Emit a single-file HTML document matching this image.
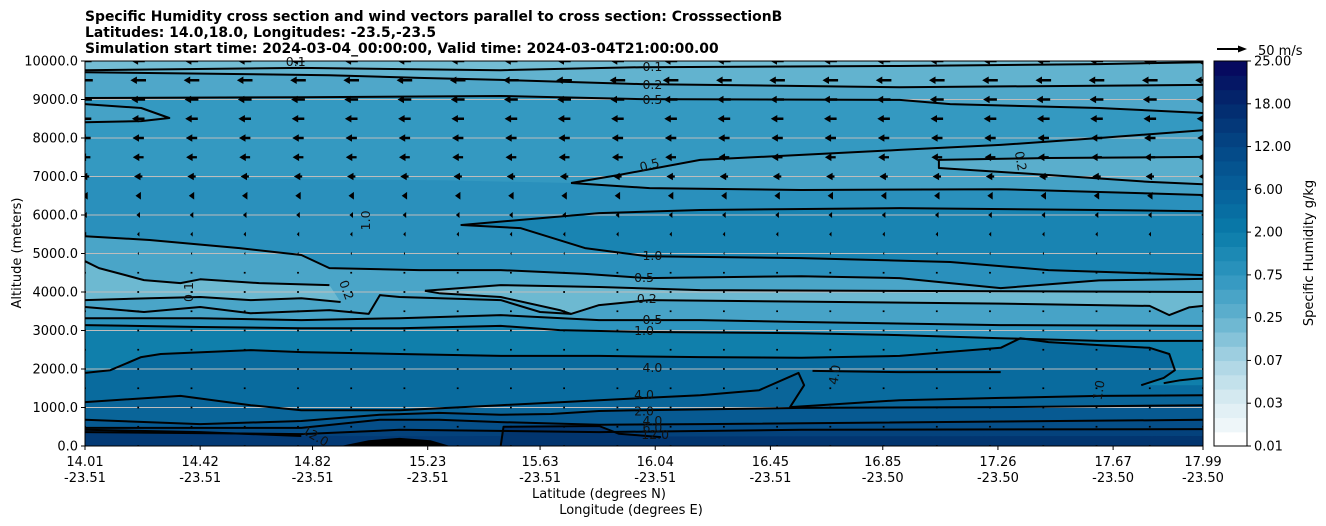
<!DOCTYPE html>
<html><head><meta charset="utf-8">
<style>
html,body{margin:0;padding:0;background:#fff;}
svg{display:block;font-family:"DejaVu Sans","Liberation Sans",sans-serif;}
</style></head>
<body>
<svg id="chart" width="1326" height="526" viewBox="0 0 1326 526" xmlns="http://www.w3.org/2000/svg">
  <g font-weight="bold" font-size="13.9" fill="#000">
    <text x="85" y="21">Specific Humidity cross section and wind vectors parallel to cross section: CrosssectionB</text>
    <text x="85" y="37">Latitudes: 14.0,18.0, Longitudes: -23.5,-23.5</text>
    <text x="85" y="53">Simulation start time: 2024-03-04_00:00:00, Valid time: 2024-03-04T21:00:00.00</text>
  </g>
  <defs><clipPath id="plotclip"><rect x="85" y="61" width="1118" height="385"/></clipPath></defs>
  <g id="fills" clip-path="url(#plotclip)"></g>
  <g id="grid"></g>
  <g id="lines" clip-path="url(#plotclip)"></g>
  <g id="clabels" font-size="12.5" fill="#111"></g>
  <g id="arrows" clip-path="url(#plotclip)"></g>
  <rect x="85" y="61" width="1118" height="385" fill="none" stroke="#000" stroke-width="1"/>
  <g id="yaxis" font-size="13"></g>
  <g id="xaxis" font-size="13"></g>
  <text font-size="13" transform="translate(21,253) rotate(-90)" text-anchor="middle">Altitude (meters)</text>
  <text font-size="13" x="599" y="498" text-anchor="middle">Latitude (degrees N)</text>
  <text font-size="13" x="631" y="514" text-anchor="middle">Longitude (degrees E)</text>
  <g id="cbar" font-size="13"></g>
  <text font-size="13" transform="translate(1313,253) rotate(-90)" text-anchor="middle">Specific Humidity g/kg</text>
  <g>
    <line x1="1217" y1="49" x2="1240" y2="49" stroke="#000" stroke-width="2"/>
    <polygon points="1247,49 1238,45.5 1238,52.5" fill="#000"/>
    <text x="1258" y="55" font-size="13">50 m/s</text>
  </g>
</svg>
<script>
// ---- data ----
const yTicks = [0,1000,2000,3000,4000,5000,6000,7000,8000,9000,10000];
const latTicks = [14.01,14.42,14.82,15.23,15.63,16.04,16.45,16.85,17.26,17.67,17.99];
const lonTicks = ["-23.51","-23.51","-23.51","-23.51","-23.51","-23.51","-23.51","-23.50","-23.50","-23.50","-23.50"];
const cbarTicks = ["0.01","0.03","0.07","0.25","0.75","2.00","6.00","12.00","18.00","25.00"];
const cbarAnchors = ['#ffffff','#dcedf3','#a9d4e3','#63b2ce','#2e95bf','#0a7ca9','#06609a','#044785','#03296d','#06045c'];
const windAlts = [0,500,1000,1500,2000,2500,3000,3500,4000,4500,5000,5500,6000,6500,7000,7500,8000,8500,9000,9500,10000];
const windU = [0,1,-0.5,-0.5,-0.5,-0.5,-1,-1,-1.5,-1.5,-2,-4,-6,-9,-14,-18,-19,-21,-23,-26,-22];
const windLats = [];
for (let k=0;k<22;k++) windLats.push(14.01 + k*(3.98/21)); // quiver grid columns

const lineA_lat=[14.01,14.78,15.49,15.99,16.91,17.62,17.99], lineA_alt=[9760,9820,9760,9840,9870,9920,9970];
const lineB_lat=[14.01,14.88,15.20,15.49,15.99,16.91,17.99], lineB_alt=[9710,9630,9560,9510,9400,9320,9380];
const lineC_lat=[14.01,14.78,15.49,15.99,16.91,17.09,17.62,17.99], lineC_alt=[9040,9060,9090,9010,8990,8880,8780,8650];
const lineD_lat=[14.01,14.21,14.31,14.21,14.01], lineD_alt=[8880,8780,8520,8440,8410];
const lineE_lat=[15.74,15.91,16.20,16.56,16.91,17.27,17.62,17.99], lineE_alt=[6830,7040,7430,7560,7690,7820,8000,8200];
const lineF_lat=[15.74,16.02,16.56,17.27,17.99], lineF_alt=[6830,6700,6650,6670,6520];
const lineG_lat=[17.99,17.44,17.05,17.05,17.44,17.80,17.99], lineG_alt=[7510,7480,7430,7220,7040,6860,6800];
const lineH_lat=[17.99,17.62,16.91,16.20,15.84,15.35,15.56,15.79,16.01,16.56,17.09,17.44,17.99], lineH_alt=[6100,6130,6180,6130,6050,5740,5660,5140,4930,4880,4780,4570,4440];
const lineI_lat=[14.01,14.24,14.56,14.78,14.88,15.20,15.49,15.79,16.01,16.56,16.91,17.27,17.62,17.99], lineI_alt=[5450,5350,5140,4960,4620,4570,4570,4470,4360,4410,4360,4100,4300,4340];
const lineJ_lat=[14.01,14.06,14.22,14.35,14.42,14.63,14.88], lineJ_alt=[4800,4620,4310,4230,4330,4230,4180];
const lineK_lat=[14.01,14.24,14.42,14.60,14.78,14.92], lineK_alt=[3790,3840,3870,3790,3840,3740];
const lineL2u_lat=[15.22,15.49,15.84,16.20,17.99], lineL2u_alt=[4030,4180,4130,4050,4000];
const lineL2_lat=[15.22,15.27,15.49,15.70,15.74,15.84,16.02,16.56,17.27,17.80,17.87,17.94,17.99], lineL2_alt=[4030,3970,3870,3530,3430,3660,3790,3750,3700,3640,3400,3600,3640];
const lineL_lat=[14.01,14.22,14.42,14.60,14.88,15.02,15.06,15.13,15.49,15.63,15.74], lineL_alt=[3610,3480,3610,3450,3530,3430,3920,3870,3790,3480,3430];
const lineM_lat=[14.01,14.42,14.78,15.13,15.49,15.84,16.20,16.56,17.27,17.99], lineM_alt=[3320,3320,3270,3320,3400,3270,3270,3220,3140,3120];
const lineN_lat=[14.01,14.42,14.78,15.13,15.49,15.70,16.02,16.56,16.91,17.27,17.62,17.99], lineN_alt=[3140,3090,3060,3060,3120,3010,2960,2930,2880,2800,2730,2730];
const lineO_lat=[14.01,14.10,14.21,14.28,14.60,14.78,15.13,15.49,15.84,16.20,16.56,16.91,17.27,17.34,17.44,17.62,17.80,17.87,17.89,17.85,17.77], lineO_alt=[1900,1970,2310,2390,2490,2440,2390,2340,2340,2310,2290,2340,2550,2800,2700,2620,2550,2390,1970,1770,1580];
const lineO2_lat=[17.85,17.91,17.99], lineO2_alt=[1630,1710,1770];
const lineO3_lat=[16.60,16.91,17.27], lineO3_alt=[1950,1920,1920];
const lineP_lat=[14.01,14.35,14.60,14.78,15.13,15.49,15.84,16.20,16.41,16.55,16.57,16.52,16.91,17.27,17.62,17.99], lineP_alt=[1140,1300,1060,930,930,1060,1190,1320,1450,1900,1580,1010,1190,1250,1300,1320];
const lineQ_lat=[14.01,14.42,14.78,15.06,15.27,15.49,15.67,15.84,15.99,16.56,17.27,17.99], lineQ_alt=[680,570,650,810,860,810,830,910,930,990,1010,1060];
const lineR_lat=[14.01,14.78,15.06,15.27,15.49,15.84,16.20,17.99], lineR_alt=[470,470,680,680,620,550,570,680];
const lineS_lat=[14.01,14.78,15.13,15.84,16.56,17.99], lineS_alt=[360,310,420,360,420,440];
const lineT_lat=[14.01,14.42,14.78], lineT_alt=[420,360,260];
const lineU_lat=[15.49,15.50,15.84,15.91,16.01,16.06], lineU_alt=[0,500,520,320,260,230];
const blob_lat=[14.92,15.02,15.13,15.24,15.31], blob_alt=[0,150,210,150,0];

const labelText=["0.1","0.2","0.5","0.5","0.2","1.0","0.5","0.2","0.5","1.0","4.0","4.0","2.0","4.0","6.0","12.0","1.0","0.1","0.2","0.1","12.0","4.0","1.0"];
const labelLat=[16.03,16.03,16.03,16.02,17.34,16.03,16.00,16.01,16.03,16.00,16.03,16.00,16.00,16.03,16.03,16.04,15.01,14.38,14.94,14.76,14.83,16.68,17.62];
const labelAlt=[9840,9380,8990,7290,7400,4930,4360,3820,3270,2990,2030,1320,900,650,470,290,5860,4000,4050,9980,250,1850,1450];
const labelRot=[0,0,0,-15,80,0,0,0,0,0,0,0,0,0,0,0,-90,-90,70,0,30,-80,-80];

// ---- scales ----
const X0=85,X1=1203,Y0=446,Y1=61;
const xS = lat => X0 + (lat-14.01)/(17.99-14.01)*(X1-X0);
const yS = alt => Y0 - alt/10000*(Y0-Y1);
const NS="http://www.w3.org/2000/svg";
function mk(tag, attrs, parent){const e=document.createElementNS(NS,tag);for(const k in attrs)e.setAttribute(k,attrs[k]);parent.appendChild(e);return e;}
const fills=document.getElementById('fills'), lines=document.getElementById('lines');

function pts(la,al){return la.map((l,i)=>xS(l).toFixed(1)+','+yS(al[i]).toFixed(1));}
function fillBelow(la,al,color,name){
  const p=pts(la,al);
  const lastY=yS(al[al.length-1]).toFixed(1), firstY=yS(al[0]).toFixed(1);
  p.push(X1+','+lastY, X1+','+Y0, X0+','+Y0, X0+','+firstY);
  const e=mk('polygon',{points:p.join(' '),fill:color},fills);
  
  
}
function fillClosed(la,al,color,name){
  const e=mk('polygon',{points:pts(la,al).join(' '),fill:color},fills);
  
  
}
function drawLine(la,al,name){
  const e=mk('polyline',{points:pts(la,al).join(' '),fill:'none',stroke:'#000','stroke-width':2,'stroke-linejoin':'round'},lines);
  
  
}
// background
const bg=mk('rect',{x:X0,y:Y1,width:X1-X0,height:Y0-Y1,fill:'#74bdd4'},fills);


fillBelow(lineA_lat,lineA_alt,'#62b3cf','fill-band-a');
fillBelow(lineB_lat,lineB_alt,'#4fa7c9','fill-band-b');
fillBelow(lineC_lat,lineC_alt,'#3499c1','fill-band-c');
fillClosed(lineD_lat,lineD_alt,'#45a2c6','fill-tongue-d');
fillBelow([14.01,14.5,15.3].concat(lineF_lat),[7000,6950,6900].concat(lineF_alt),'#2a90bc','fill-band-f');
fillClosed(lineE_lat.concat(lineF_lat.slice().reverse()),lineE_alt.concat(lineF_alt.slice().reverse()),'#45a2c6','fill-tongue-e');
fillClosed(lineG_lat,lineG_alt,'#5aaecc','fill-tongue-g');
fillClosed(lineH_lat,lineH_alt,'#1984b2','fill-tongue-h');
fillBelow(lineI_lat,lineI_alt,'#4aa5c8','fill-band-i');
fillClosed(lineJ_lat.concat(lineK_lat.slice().reverse()),lineJ_alt.concat(lineK_alt.slice().reverse()),'#6db9d1','fill-tongue-j');
fillClosed(lineL2u_lat.concat([17.99],lineL2_lat.slice().reverse()),lineL2u_alt.concat([3640],lineL2_alt.slice().reverse()),'#6db9d1','fill-tongue-l2');
fillBelow(lineL_lat.concat(lineL2_lat.slice(5)),lineL_alt.concat(lineL2_alt.slice(5)),'#47a3c7','fill-band-l');
fillBelow(lineM_lat,lineM_alt,'#2d94be','fill-band-m');
fillBelow(lineN_lat,lineN_alt,'#107fab','fill-band-n');
fillBelow(lineO_lat,lineO_alt,'#096b9e','fill-band-o');
fillBelow(lineP_lat,lineP_alt,'#0a6599','fill-band-p');
fillBelow(lineQ_lat,lineQ_alt,'#075a92','fill-band-q');
fillBelow(lineR_lat,lineR_alt,'#054e88','fill-band-r');
fillBelow(lineS_lat,lineS_alt,'#04427c','fill-band-s');
fillBelow(lineT_lat.concat([15.2,15.49]),lineT_alt.concat([250,260]),'#033a75','fill-band-t');
fillBelow(lineU_lat.concat([17.99]),lineU_alt.concat([260]),'#02356f','fill-band-u');
fillClosed(blob_lat,blob_alt,'#000','fill-blob-max');

// grid
const grid=document.getElementById('grid');
yTicks.forEach(v=>{
  if(v===0||v===10000) return;
  const g=mk('line',{x1:X0,x2:X1,y1:yS(v),y2:yS(v),stroke:'#bdbdbd','stroke-width':1},grid);
  
  
});

// contour lines
[[lineA_lat,lineA_alt],[lineB_lat,lineB_alt],[lineC_lat,lineC_alt],[lineD_lat,lineD_alt],[lineE_lat,lineE_alt],[lineF_lat,lineF_alt],[lineG_lat,lineG_alt],[lineH_lat,lineH_alt],[lineI_lat,lineI_alt],[lineJ_lat,lineJ_alt],[lineK_lat,lineK_alt],[lineL2u_lat,lineL2u_alt],[lineL2_lat,lineL2_alt],[lineL_lat,lineL_alt],[lineM_lat,lineM_alt],[lineN_lat,lineN_alt],[lineO_lat,lineO_alt],[lineO2_lat,lineO2_alt],[lineO3_lat,lineO3_alt],[lineP_lat,lineP_alt],[lineQ_lat,lineQ_alt],[lineR_lat,lineR_alt],[lineS_lat,lineS_alt],[lineT_lat,lineT_alt],[lineU_lat,lineU_alt]].forEach(a=>drawLine(a[0],a[1],'contour-line'));

// contour labels
const cl=document.getElementById('clabels');
labelText.forEach((t,i)=>{
  const x=xS(labelLat[i]), y=yS(labelAlt[i]);
  const e=mk('text',{x:0,y:4,'text-anchor':'middle',transform:`translate(${x.toFixed(1)},${y.toFixed(1)}) rotate(${labelRot[i]})`},cl);
  e.textContent=t;
  
  
});

// wind arrows (pivot middle, 50 m/s = 30px)
const arr=document.getElementById('arrows');
windAlts.forEach((alt,r)=>{
  const u=windU[r];
  windLats.forEach(lat=>{
    const cx=xS(lat), cy=yS(alt);
    const L=Math.abs(u)*30/50, d=u<0?-1:1;
    let p;
    if(L<1.2){
      p=[[cx-0.9,cy-0.9],[cx+0.9,cy-0.9],[cx+0.9,cy+0.9],[cx-0.9,cy+0.9]];
    } else {
      const hl=Math.min(L,6.5), hw=Math.min(3.8,1.2+L*0.5), sw=Math.min(1.2,0.3+L*0.1);
      const tip=cx+d*L/2, tail=cx-d*L/2, hb=tip-d*hl;
      p=[[tail,cy-sw],[hb,cy-sw],[hb,cy-hw],[tip,cy],[hb,cy+hw],[hb,cy+sw],[tail,cy+sw]];
    }
    const e=mk('polygon',{points:p.map(q=>q[0].toFixed(1)+','+q[1].toFixed(1)).join(' '),fill:'#000'},arr);
    
    
  });
});

// y axis
const ya=document.getElementById('yaxis');
yTicks.forEach(v=>{
  const y=yS(v);
  mk('line',{x1:X0-4,x2:X0,y1:y,y2:y,stroke:'#000'},ya);
  const t=mk('text',{x:X0-7,y:y+4.5,'text-anchor':'end'},ya);
  t.textContent=v.toFixed(1);
  
  
});
// x axis
const xa=document.getElementById('xaxis');
latTicks.forEach((v,i)=>{
  const x=xS(v);
  mk('line',{x1:x,x2:x,y1:Y0,y2:Y0+4,stroke:'#000'},xa);
  const t=mk('text',{x:x,y:466,'text-anchor':'middle'},xa);
  t.textContent=v.toFixed(2);
  
  
  const t2=mk('text',{x:x,y:482,'text-anchor':'middle'},xa);
  t2.textContent=lonTicks[i];
  
  
});

// colorbar
const cb=document.getElementById('cbar');
const CX=1214,CW=33,CT=61,CB=446,NB=27;
function hex2rgb(h){return [1,3,5].map(i=>parseInt(h.substr(i,2),16));}
function colAt(f){const s=f*(cbarAnchors.length-1);const i=Math.min(Math.floor(s),cbarAnchors.length-2);const t=s-i;const a=hex2rgb(cbarAnchors[i]),b=hex2rgb(cbarAnchors[i+1]);return 'rgb('+a.map((v,k)=>Math.round(v+(b[k]-v)*t)).join(',')+')';}
const bh=(CB-CT)/NB;
for(let k=0;k<NB;k++){
  const f=k===0?0:(k+0.5)/NB;
  const e=mk('rect',{x:CX,y:(CB-(k+1)*bh).toFixed(2),width:CW,height:(bh+0.6).toFixed(2),fill:colAt(f)},cb);
  
  
}
mk('rect',{x:CX,y:CT,width:CW,height:CB-CT,fill:'none',stroke:'#000','stroke-width':1},cb);
cbarTicks.forEach((t,i)=>{
  const y=CB-i*(CB-CT)/(cbarTicks.length-1);
  mk('line',{x1:CX+CW,x2:CX+CW+4,y1:y,y2:y,stroke:'#000'},cb);
  const e=mk('text',{x:CX+CW+7,y:y+4.5},cb);
  e.textContent=t;
  
  
});
</script>
</body></html>
